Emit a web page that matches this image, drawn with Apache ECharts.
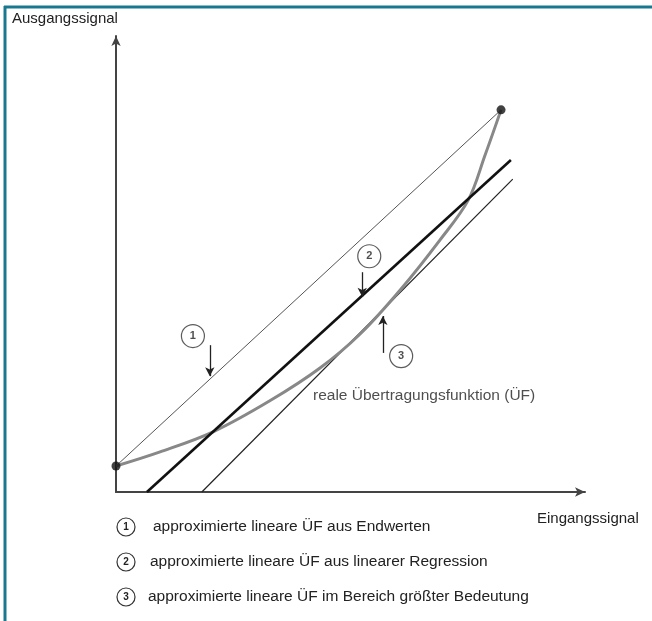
<!DOCTYPE html>
<html>
<head>
<meta charset="utf-8">
<script src="https://cdn.jsdelivr.net/npm/echarts@6/dist/echarts.min.js"></script>
<style>
html,body{margin:0;padding:0;background:#fff;}
#c{width:652px;height:621px;}
</style>
</head>
<body>
<div id="c"></div>
<script>
// ---- data (normalised units 0..100 on both axes) ----
var curveX = [0, 9.4, 20.7, 32.8, 43.5, 52.0, 60.6, 69.1, 75.1, 78.7, 82.1];
var curveY = [5.7, 8.8, 13.2, 20.0, 27.2, 34.6, 44.3, 55.3, 64.0, 73.9, 83.8];
var line1X = [0, 82.1];      // approximierte ÜF aus Endwerten
var line1Y = [5.7, 83.8];
var line2X = [6.6, 84.2];    // lineare Regression
var line2Y = [0, 72.8];
var line3X = [18.3, 84.6];   // Bereich größter Bedeutung
var line3Y = [0, 68.6];
var markerLabels = ['1', '2', '3'];
var markerX = [16.4, 54.0, 60.8];
var markerY = [34.2, 51.7, 29.8];
var arrowX = [20.0, 52.5, 56.9];
var arrowFromY = [32.2, 48.2, 30.5];
var arrowToY = [25.4, 42.8, 38.6];
var curveLabel = 'reale Übertragungsfunktion (ÜF)';
var curveLabelX = 42.0, curveLabelY = 21.1;
var xAxisName = 'Eingangssignal';
var yAxisName = 'Ausgangssignal';
var legendTexts = [
  'approximierte lineare ÜF aus Endwerten',
  'approximierte lineare ÜF aus linearer Regression',
  'approximierte lineare ÜF im Bereich größter Bedeutung'
];

function zip(a, b) { return a.map(function (v, i) { return [v, b[i]]; }); }

var FONT = '"Liberation Sans", Arial, sans-serif';
var chart = echarts.init(document.getElementById('c'));

var axisCommon = {
  type: 'value', min: 0, max: 100,
  axisLine: { show: true, lineStyle: { color: '#444', width: 2 }, symbol: ['none', 'arrow'], symbolSize: [7, 10] },
  axisTick: { show: false }, axisLabel: { show: false }, splitLine: { show: false }
};

var legendGraphics = [];
legendTexts.forEach(function (t, i) {
  var cy = [527, 562, 597][i];
  legendGraphics.push({
    type: 'circle', shape: { cx: 126, cy: cy, r: 9 },
    style: { fill: '#fff', stroke: '#333', lineWidth: 1.2 }
  });
  legendGraphics.push({
    type: 'text', x: 126, y: cy,
    style: { text: String(i + 1), font: 'bold 10px ' + FONT, fill: '#222', textAlign: 'center', textVerticalAlign: 'middle' }
  });
  legendGraphics.push({
    type: 'text', x: [153, 150, 148][i], y: cy,
    style: { text: t, font: '15.5px ' + FONT, fill: '#222', textVerticalAlign: 'middle' }
  });
});

var option = {
  animation: false,
  backgroundColor: '#fff',
  grid: { left: 116, top: 36, width: 469, height: 456, containLabel: false },
  xAxis: axisCommon,
  yAxis: axisCommon,
  graphic: [
    { type: 'line', shape: { x1: 4, y1: 7, x2: 652, y2: 7 }, style: { stroke: '#17788f', lineWidth: 3 } },
    { type: 'line', shape: { x1: 5, y1: 6, x2: 5, y2: 621 }, style: { stroke: '#17788f', lineWidth: 3 } },
    { type: 'text', x: 12, y: 19, style: { text: yAxisName, font: '15px ' + FONT, fill: '#222', textVerticalAlign: 'middle' } },
    { type: 'text', x: 537, y: 519, style: { text: xAxisName, font: '15px ' + FONT, fill: '#222', textVerticalAlign: 'middle' } }
  ].concat(legendGraphics),
  series: [
    {
      name: 'real', type: 'line', data: zip(curveX, curveY), smooth: 0.35,
      symbol: 'none', lineStyle: { color: '#888', width: 3 }, z: 3
    },
    {
      name: 'l1', type: 'line', data: zip(line1X, line1Y), symbol: 'none',
      lineStyle: { color: '#555', width: 1 }, z: 2
    },
    {
      name: 'l2', type: 'line', data: zip(line2X, line2Y), symbol: 'none',
      lineStyle: { color: '#111', width: 2.6 }, z: 4
    },
    {
      name: 'l3', type: 'line', data: zip(line3X, line3Y), symbol: 'none',
      lineStyle: { color: '#222', width: 1.2 }, z: 2
    },
    {
      name: 'ends', type: 'scatter', data: [[curveX[0], curveY[0]], [curveX[curveX.length - 1], curveY[curveY.length - 1]]],
      symbolSize: 9, itemStyle: { color: '#111' }, z: 6, clip: false
    },
    {
      name: 'markers', type: 'scatter', clip: false, z: 7,
      data: markerLabels.map(function (l, i) { return { value: [markerX[i], markerY[i]], name: l }; }),
      symbol: 'circle', symbolSize: 23,
      itemStyle: { color: '#fff', borderColor: '#333', borderWidth: 1.2 },
      label: { show: true, position: 'inside', formatter: '{b}', color: '#222', fontWeight: 'bold', fontSize: 11, fontFamily: FONT }
    },
    {
      name: 'curveLabel', type: 'scatter', clip: false, z: 7,
      data: [[curveLabelX, curveLabelY]], symbolSize: 0,
      label: { show: true, position: 'right', distance: 0, formatter: curveLabel, color: '#222', fontSize: 15.5, fontFamily: FONT }
    },
    {
      name: 'arrows', type: 'line', data: [], z: 5,
      markLine: {
        silent: true, animation: false,
        symbol: ['none', 'arrow'], symbolSize: [7, 9],
        lineStyle: { color: '#222', width: 1.3, type: 'solid' },
        label: { show: false },
        data: arrowX.map(function (x, i) { return [{ coord: [x, arrowFromY[i]] }, { coord: [x, arrowToY[i]] }]; })
      }
    }
  ]
};
chart.setOption(option);
</script>
</body>
</html>
